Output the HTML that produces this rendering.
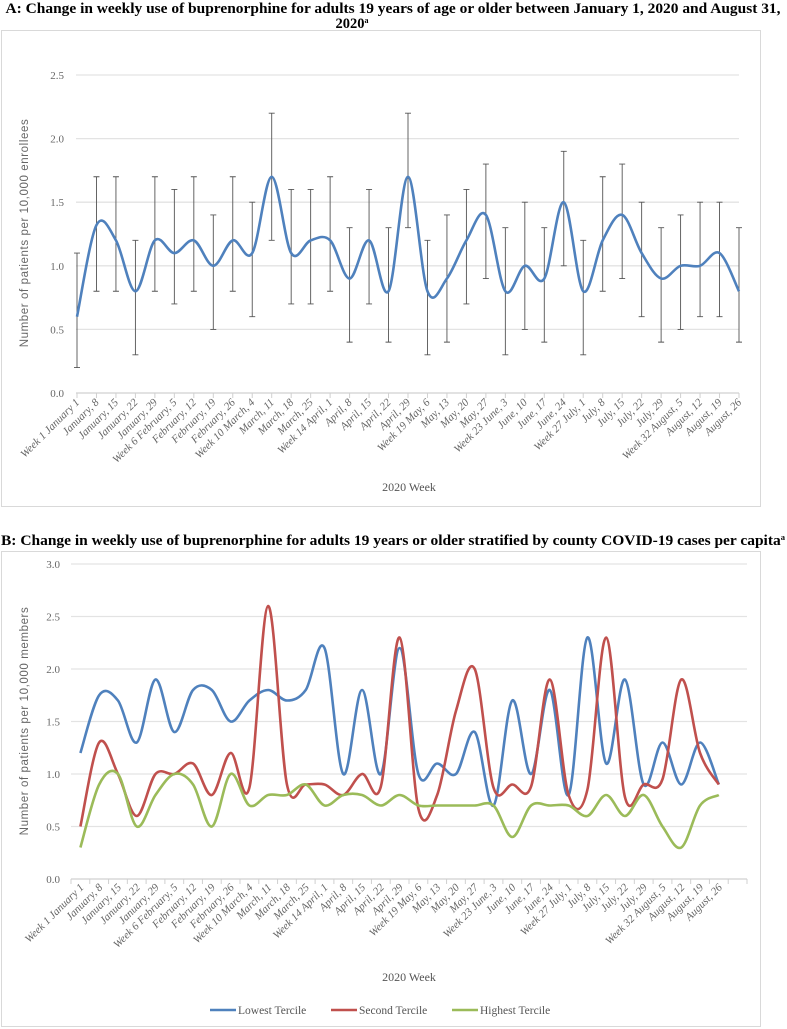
<!DOCTYPE html>
<html><head><meta charset="utf-8"><style>
html,body{margin:0;padding:0;background:#fff;}
svg{display:block;}
</style></head><body>
<svg id="s" width="787" height="1029" xmlns="http://www.w3.org/2000/svg">
<text x="393" y="13" text-anchor="middle" font-family="Liberation Serif, serif" font-weight="bold" font-size="14.5" textLength="775" lengthAdjust="spacingAndGlyphs">A: Change in weekly use of buprenorphine for adults 19 years of age or older between January 1, 2020 and August 31,</text>
<text x="352" y="28" text-anchor="middle" font-family="Liberation Serif, serif" font-weight="bold" font-size="14.5">2020<tspan font-size="8" dy="-5">a</tspan></text>
<rect x="1.5" y="30.5" width="759" height="476" fill="none" stroke="#d9d9d9"/>
<g id="ga"></g>
<text x="393" y="545" text-anchor="middle" font-family="Liberation Serif, serif" font-weight="bold" font-size="14.5" textLength="784" lengthAdjust="spacingAndGlyphs">B: Change in weekly use of buprenorphine for adults 19 years or older stratified by county COVID-19 cases per capita<tspan font-size="8" dy="-5">a</tspan></text>
<rect x="1.5" y="551.5" width="759" height="475" fill="none" stroke="#d9d9d9"/>
<g id="gb"></g>
</svg>
<script>
const weeks=["Week 1 January 1","January, 8","January, 15","January, 22","January, 29","Week 6 February, 5","February, 12","February, 19","February, 26","Week 10 March, 4","March, 11","March, 18","March, 25","Week 14 April, 1","April, 8","April, 15","April, 22","April, 29","Week 19 May, 6","May, 13","May, 20","May, 27","Week 23 June, 3","June, 10","June, 17","June, 24","Week 27 July, 1","July, 8","July, 15","July, 22","July, 29","Week 32 August, 5","August, 12","August, 19","August, 26"];
const yTicksA=["0.0","0.5","1.0","1.5","2.0","2.5"];
const yTicksB=["0.0","0.5","1.0","1.5","2.0","2.5","3.0"];
const valuesA=[0.6,1.32,1.2,0.8,1.2,1.1,1.2,1.0,1.2,1.1,1.7,1.1,1.2,1.2,0.9,1.2,0.8,1.7,0.8,0.9,1.2,1.4,0.8,1.0,0.9,1.5,0.8,1.2,1.4,1.1,0.9,1.0,1.0,1.1,0.8];
const upperA=[1.1,1.7,1.7,1.2,1.7,1.6,1.7,1.4,1.7,1.5,2.2,1.6,1.6,1.7,1.3,1.6,1.3,2.2,1.2,1.4,1.6,1.8,1.3,1.5,1.3,1.9,1.2,1.7,1.8,1.5,1.3,1.4,1.5,1.5,1.3];
const lowerA=[0.2,0.8,0.8,0.3,0.8,0.7,0.8,0.5,0.8,0.6,1.2,0.7,0.7,0.8,0.4,0.7,0.4,1.3,0.3,0.4,0.7,0.9,0.3,0.5,0.4,1.0,0.3,0.8,0.9,0.6,0.4,0.5,0.6,0.6,0.4];
const lowestB=[1.2,1.75,1.7,1.3,1.9,1.4,1.8,1.8,1.5,1.7,1.8,1.7,1.8,2.2,1.0,1.8,1.0,2.2,1.0,1.1,1.0,1.4,0.7,1.7,1.0,1.8,0.8,2.3,1.1,1.9,0.9,1.3,0.9,1.3,0.9];
const secondB=[0.5,1.3,1.0,0.6,1.0,1.0,1.1,0.8,1.2,0.87,2.6,0.9,0.9,0.9,0.8,1.0,0.88,2.3,0.67,0.8,1.6,2.0,0.87,0.9,0.88,1.9,0.8,0.85,2.3,0.78,0.9,0.95,1.9,1.2,0.9];
const highestB=[0.3,0.9,1.0,0.5,0.8,1.0,0.9,0.5,1.0,0.7,0.8,0.8,0.9,0.7,0.8,0.8,0.7,0.8,0.7,0.7,0.7,0.7,0.7,0.4,0.7,0.7,0.7,0.6,0.8,0.6,0.8,0.5,0.3,0.7,0.8];

const NS="http://www.w3.org/2000/svg";
function mk(p,tag,attrs){const e=document.createElementNS(NS,tag);for(const k in attrs)e.setAttribute(k,attrs[k]);p.appendChild(e);return e;}
function smooth(pts){let d="M"+pts[0][0]+","+pts[0][1];const t=1/6;
 for(let i=0;i<pts.length-1;i++){const p0=pts[Math.max(0,i-1)],p1=pts[i],p2=pts[i+1],p3=pts[Math.min(pts.length-1,i+2)];
  d+=" C"+(p1[0]+(p2[0]-p0[0])*t)+","+(p1[1]+(p2[1]-p0[1])*t)+" "+(p2[0]-(p3[0]-p1[0])*t)+","+(p2[1]-(p3[1]-p1[1])*t)+" "+p2[0]+","+p2[1];}
 return d;}

// ---------- Chart A ----------
const ga=document.getElementById('ga');
const axA={x0:77,dx:(739-77)/34,y0:393,sy:(393-75)/2.5,left:76,right:739};
const xA=i=>axA.x0+i*axA.dx, yA=v=>axA.y0-v*axA.sy;
yTicksA.forEach((t,i)=>{const v=parseFloat(t),y=yA(v);
 const g=mk(ga,'line',{x1:axA.left,x2:axA.right,y1:y,y2:y,stroke:i==0?'#d0d0d0':'#e3e3e3','stroke-width':1.3});
 
 
 const tx=mk(ga,'text',{x:64,y:y+4,'text-anchor':'end','font-family':'Liberation Serif, serif','font-size':11,fill:'#666'});tx.textContent=t;
 
 });
weeks.forEach((w,i)=>{const x=xA(i);
 const tk=mk(ga,'line',{x1:x,x2:x,y1:axA.y0,y2:axA.y0+5,stroke:'#d0d0d0'});
 
 
 const tx=mk(ga,'text',{x:x+3,y:axA.y0+10,'text-anchor':'end','font-family':'Liberation Serif, serif','font-style':'italic','font-size':11,fill:'#666',transform:`rotate(-45 ${x+3} ${axA.y0+10})`});tx.textContent=w;
 
 });
valuesA.forEach((v,i)=>{const x=xA(i),y1=yA(upperA[i]),y2=yA(lowerA[i]);
 const g=mk(ga,'path',{d:`M${x},${y1}V${y2}M${x-3},${y1}H${x+3}M${x-3},${y2}H${x+3}`,stroke:'#555','stroke-width':0.9,fill:'none'});
 
 });
const la=mk(ga,'path',{d:smooth(valuesA.map((v,i)=>[xA(i),yA(v)])),stroke:'#4f81bd','stroke-width':2.6,fill:'none'});


const yta=mk(ga,'text',{x:0,y:0,'text-anchor':'middle','font-family':'Liberation Sans, sans-serif','font-size':11.5,fill:'#666','letter-spacing':'0.6',transform:'translate(28,233) rotate(-90)'});yta.textContent="Number of patients per 10,000 enrollees";


const xta=mk(ga,'text',{x:409,y:491,'text-anchor':'middle','font-family':'Liberation Serif, serif','font-size':12,fill:'#555'});xta.textContent="2020 Week";



// ---------- Chart B ----------
const gb=document.getElementById('gb');
const axB={left:71,right:747,y0:879,sy:(879-564)/3};
const dxB=(axB.right-axB.left)/36;
const xB=i=>axB.left+(i+0.5)*dxB, yB=v=>axB.y0-v*axB.sy;
yTicksB.forEach((t,i)=>{const v=parseFloat(t),y=yB(v);
 const g=mk(gb,'line',{x1:axB.left,x2:axB.right,y1:y,y2:y,stroke:i==0?'#d0d0d0':'#e3e3e3','stroke-width':1.3});
 
 
 const tx=mk(gb,'text',{x:60,y:y+4,'text-anchor':'end','font-family':'Liberation Serif, serif','font-size':11,fill:'#666'});tx.textContent=t;
 
 });
for(let i=0;i<=36;i++){const x=axB.left+i*dxB;
 const tk=mk(gb,'line',{x1:x,x2:x,y1:axB.y0,y2:axB.y0+5,stroke:'#d0d0d0'});
 
 }
weeks.forEach((w,i)=>{const x=xB(i)+4;
 const tx=mk(gb,'text',{x:x,y:axB.y0+9,'text-anchor':'end','font-family':'Liberation Serif, serif','font-style':'italic','font-size':11,fill:'#666',transform:`rotate(-45 ${x} ${axB.y0+9})`});tx.textContent=w;
 
 });
const series=[["lowest-tercile-line",lowestB,'#4f81bd'],["second-tercile-line",secondB,'#c0504d'],["highest-tercile-line",highestB,'#9bbb59']];
series.forEach(s=>{const p=mk(gb,'path',{d:smooth(s[1].map((v,i)=>[xB(i),yB(v)])),stroke:s[2],'stroke-width':2.6,fill:'none'});
 
 });
const ytb=mk(gb,'text',{x:0,y:0,'text-anchor':'middle','font-family':'Liberation Sans, sans-serif','font-size':11.5,fill:'#666','letter-spacing':'0.6',transform:'translate(28,721) rotate(-90)'});ytb.textContent="Number of patients per 10,000 members";


const xtb=mk(gb,'text',{x:409,y:981,'text-anchor':'middle','font-family':'Liberation Serif, serif','font-size':12,fill:'#555'});xtb.textContent="2020 Week";


const legend=[["Lowest Tercile",'#4f81bd',210],["Second Tercile",'#c0504d',331],["Highest Tercile",'#9bbb59',452]];
legend.forEach(l=>{const g=mk(gb,'g',{});
 
 
 mk(g,'line',{x1:l[2],x2:l[2]+26,y1:1010,y2:1010,stroke:l[1],'stroke-width':2.6});
 const t=mk(g,'text',{x:l[2]+28,y:1014,'font-family':'Liberation Serif, serif','font-size':11.5,fill:'#555'});t.textContent=l[0];});
</script>
</body></html>
